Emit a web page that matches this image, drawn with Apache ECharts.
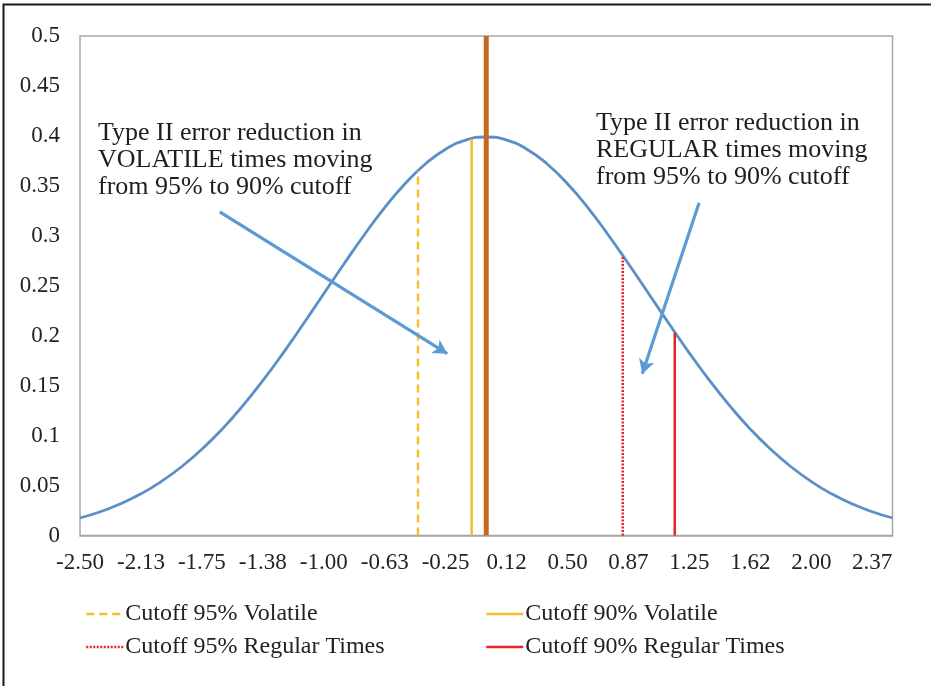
<!DOCTYPE html>
<html>
<head>
<meta charset="utf-8">
<script src="https://cdn.jsdelivr.net/npm/echarts@6/dist/echarts.min.js"></script>
<style>
  html, body { margin: 0; padding: 0; background: #ffffff; }
  #chart { width: 931px; height: 686px; }
</style>
</head>
<body>
<div id="chart"></div>
<script>
// ---- data ----
const xValues = [-2.5, -2.375, -2.25, -2.125, -2.0, -1.875, -1.75, -1.625, -1.5, -1.375,
  -1.25, -1.125, -1.0, -0.875, -0.75, -0.625, -0.5, -0.375, -0.25, -0.125,
  0, 0.125, 0.25, 0.375, 0.5, 0.625, 0.75, 0.875, 1.0, 1.125,
  1.25, 1.375, 1.5, 1.625, 1.75, 1.875, 2.0, 2.125, 2.25, 2.375, 2.5];
const densityValues = [0.0175, 0.0238, 0.0317, 0.0417, 0.0540, 0.0688, 0.0863, 0.1065, 0.1295, 0.1550,
  0.1826, 0.2119, 0.2420, 0.2720, 0.3011, 0.3282, 0.3521, 0.3719, 0.3867, 0.3958,
  0.3989, 0.3958, 0.3867, 0.3719, 0.3521, 0.3282, 0.3011, 0.2720, 0.2420, 0.2119,
  0.1826, 0.1550, 0.1295, 0.1065, 0.0863, 0.0688, 0.0540, 0.0417, 0.0317, 0.0238, 0.0175];

const meanX = 0;
const meanTop = 0.5;

const cutoffNames = ['Cutoff 95% Volatile', 'Cutoff 90% Volatile', 'Cutoff 95% Regular Times', 'Cutoff 90% Regular Times'];
const cutoffX = [-0.42, -0.09, 0.84, 1.16];
const cutoffTop = [0.365, 0.397, 0.280, 0.203];

const xTickLabels = ['-2.50', '-2.13', '-1.75', '-1.38', '-1.00', '-0.63', '-0.25', '0.12', '0.50', '0.87', '1.25', '1.62', '2.00', '2.37'];
const yTickLabels = ['0', '0.05', '0.1', '0.15', '0.2', '0.25', '0.3', '0.35', '0.4', '0.45', '0.5'];

const annotationTexts = [
  'Type II error reduction in\nVOLATILE times moving\nfrom 95% to 90% cutoff',
  'Type II error reduction in\nREGULAR times moving\nfrom 95% to 90% cutoff'
];
// arrow start/end in data space
const arrowVolatile = [[-1.64, 0.324], [-0.24, 0.182]];
const arrowRegular = [[1.31, 0.333], [0.96, 0.162]];

// ---- chart ----
const FONT = 'Liberation Serif';
const xMin = -2.5, xMax = 2.5, xStep = 0.375;
const yMin = 0, yMax = 0.5, yStep = 0.05;

const curveColor = '#5B8FC7';
const arrowColor = '#5B9BD5';
const yellow = '#F5BE30';
const red = '#E3262B';
const orange = '#C8681F';

function labelFromArray(v, min, step, arr) {
  const idx = Math.round((v - min) / step);
  if (Math.abs(v - (min + idx * step)) > 1e-6) return '';
  return arr[idx] !== undefined ? arr[idx] : '';
}

function vline(x, top) { return [[x, 0], [x, top]]; }

const cutoffStyles = [
  { color: yellow, width: 2.5, type: [8, 5] },
  { color: yellow, width: 2.5, type: 'solid' },
  { color: red, width: 2.5, type: [2, 1.5] },
  { color: red, width: 2.5, type: 'solid' }
];

const series = [
  {
    name: 'Density',
    type: 'line',
    data: xValues.map((x, i) => [x, densityValues[i]]),
    smooth: true,
    symbol: 'none',
    lineStyle: { color: curveColor, width: 2.8 },
    itemStyle: { color: curveColor },
    z: 2,
    markLine: {
      silent: true,
      symbol: ['none', 'arrow'],
      symbolSize: [12, 14],
      label: { show: false },
      lineStyle: { color: arrowColor, width: 3.2, type: 'solid' },
      data: [
        [{ coord: arrowVolatile[0] }, { coord: arrowVolatile[1] }],
        [{ coord: arrowRegular[0] }, { coord: arrowRegular[1] }]
      ]
    }
  },
  {
    name: 'Mean',
    type: 'line',
    data: vline(meanX, meanTop),
    symbol: 'none',
    lineStyle: { color: orange, width: 5 },
    itemStyle: { color: orange },
    z: 4
  }
];
cutoffNames.forEach((name, i) => {
  series.push({
    name: name,
    type: 'line',
    data: vline(cutoffX[i], cutoffTop[i]),
    symbol: 'none',
    lineStyle: { color: cutoffStyles[i].color, width: cutoffStyles[i].width, type: cutoffStyles[i].type },
    itemStyle: { color: cutoffStyles[i].color },
    z: 3
  });
});

const legendCommon = {
  orient: 'vertical',
  top: 602,
  padding: 0,
  itemWidth: 37,
  itemHeight: 14,
  itemGap: 9,
  selectedMode: false,
  itemStyle: { opacity: 0 },
  lineStyle: { width: 2.5 },
  textStyle: { fontFamily: FONT, fontSize: 24, color: '#222', padding: [0, 0, 0, -3] }
};

const option = {
  backgroundColor: '#ffffff',
  animation: false,
  grid: {
    left: 80, right: 38.5, top: 36, bottom: 150.5,
    show: true, borderColor: '#A6A6A6', borderWidth: 1.5, backgroundColor: 'transparent'
  },
  xAxis: {
    type: 'value',
    min: xMin, max: xMax, interval: xStep,
    splitLine: { show: false },
    axisTick: { show: false },
    axisLine: { show: true, onZero: false, lineStyle: { color: '#A6A6A6', width: 1.5 } },
    axisLabel: {
      showMaxLabel: false,
      margin: 16,
      fontFamily: FONT, fontSize: 23, color: '#222',
      formatter: v => labelFromArray(v, xMin, xStep, xTickLabels)
    }
  },
  yAxis: {
    type: 'value',
    min: yMin, max: yMax, interval: yStep,
    splitLine: { show: false },
    axisTick: { show: false },
    axisLine: { show: false },
    axisLabel: {
      margin: 20,
      fontFamily: FONT, fontSize: 23, color: '#222',
      formatter: v => labelFromArray(v, yMin, yStep, yTickLabels)
    }
  },
  legend: [
    Object.assign({}, legendCommon, { left: 85, data: [cutoffNames[0], cutoffNames[2]] }),
    Object.assign({}, legendCommon, { left: 485, data: [cutoffNames[1], cutoffNames[3]] })
  ],
  graphic: [
    {
      type: 'rect',
      silent: true,
      shape: { x: 3.5, y: 4.5, width: 1200, height: 1200 },
      style: { fill: 'none', stroke: '#1a1a1a', lineWidth: 2 },
      z: 100
    },
    {
      type: 'text',
      silent: true,
      style: {
        x: 98, y: 119.5, text: annotationTexts[0],
        fontFamily: FONT, fontSize: 26, lineHeight: 27, fill: '#1e1e1e',
        verticalAlign: 'top', align: 'left'
      },
      z: 100
    },
    {
      type: 'text',
      silent: true,
      style: {
        x: 596, y: 109.5, text: annotationTexts[1],
        fontFamily: FONT, fontSize: 26, lineHeight: 27, fill: '#1e1e1e',
        verticalAlign: 'top', align: 'left'
      },
      z: 100
    }
  ],
  series: series
};

const chart = echarts.init(document.getElementById('chart'), null, { renderer: 'canvas' });
chart.setOption(option);
</script>
</body>
</html>
